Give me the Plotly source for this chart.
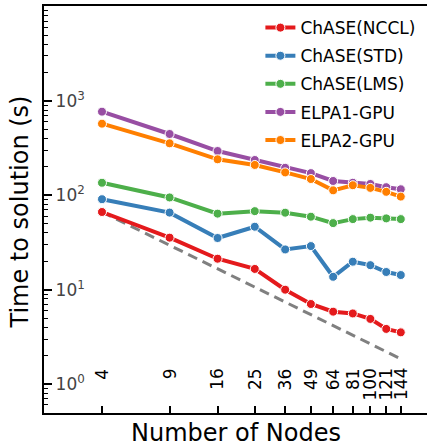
import math
import plotly.graph_objects as go

nodes = [4, 9, 16, 25, 36, 49, 64, 81, 100, 121, 144]
node_labels = ["4", "9", "16", "25", "36", "49", "64", "81", "100", "121", "144"]

chase_nccl = [66.6, 35.6, 21.3, 16.6, 10.0, 7.05, 5.85, 5.6, 4.9, 3.84, 3.53]
chase_std = [91, 65.6, 35.3, 46.5, 26.7, 29, 13.7, 19.8, 18.2, 15.4, 14.3]
chase_lms = [136, 95, 64, 68, 65.5, 59.4, 50.8, 56, 58, 57, 56]
elpa1_gpu = [771, 447, 295, 237, 196, 172, 142, 136, 132, 122, 116]
elpa2_gpu = [575, 356, 241, 210, 175, 149, 113, 128, 120, 109, 97]

ideal_nodes = [4, 144]
ideal_time = [66.6, 1.85]

series_names = ["ChASE(NCCL)", "ChASE(STD)", "ChASE(LMS)", "ELPA1-GPU", "ELPA2-GPU"]
series_values = [chase_nccl, chase_std, chase_lms, elpa1_gpu, elpa2_gpu]
colors = ["#e41a1c", "#377eb8", "#4daf4a", "#984ea3", "#ff7f00"]

y_tickvals = [1, 10, 100, 1000]
y_ticktext = ["10<sup>0</sup>", "10<sup>1</sup>", "10<sup>2</sup>", "10<sup>3</sup>"]
y_minor = [0.5, 0.6, 0.7, 0.8, 0.9] + [m * 10 ** d for d in range(0, 4) for m in range(2, 10)] + [10000]

FONT = "DejaVu Sans"

fig = go.Figure()
fig.add_trace(go.Scatter(
    x=ideal_nodes, y=ideal_time, mode="lines",
    line=dict(color="#808080", width=3, dash="10px,6px"),
    showlegend=False, hoverinfo="skip"))

for name, vals, col in zip(series_names, series_values, colors):
    fig.add_trace(go.Scatter(
        x=nodes, y=vals, mode="lines+markers", name=name, legendgroup=name,
        line=dict(color=col, width=4),
        marker=dict(color=col, size=9, line=dict(color="white", width=1))))

# x tick labels: rotated, drawn inside the plot, top-aligned (as in the reference)
# (annotation x on a log axis is given in log10 units)
for xv, lab in zip(nodes, node_labels):
    fig.add_annotation(
        x=math.log10(xv), xref="x", y=0.115, yref="paper",
        text=lab, textangle=-90, showarrow=False,
        xanchor="center", yanchor="top",
        font=dict(size=17, family=FONT, color="black"))

fig.add_annotation(
    x=0.5, xref="paper", y=-0.05, yref="paper",
    text="Number of Nodes", showarrow=False, borderpad=0,
    xanchor="center", yanchor="middle",
    font=dict(size=24, family=FONT, color="black"))
fig.add_annotation(
    x=-0.0627, xref="paper", y=0.495, yref="paper",
    text="Time to solution (s)", showarrow=False, textangle=-90,
    xanchor="center", yanchor="middle",
    font=dict(size=24, family=FONT, color="black"))

fig.update_layout(
    width=427, height=447,
    margin=dict(l=44, r=0, t=6, b=34),
    paper_bgcolor="white", plot_bgcolor="white",
    font=dict(family=FONT, size=16, color="black"),
    legend=dict(x=0.565, y=0.99, xanchor="left", yanchor="top",
                font=dict(size=17, family=FONT), bgcolor="rgba(0,0,0,0)",
                tracegroupgap=3),
    xaxis=dict(
        type="log", range=[0.300, 2.295],
        tickvals=nodes, showticklabels=False,
        ticks="inside", ticklen=7, tickwidth=1.5, tickcolor="black",
        showgrid=False, zeroline=False,
        showline=True, linecolor="black", linewidth=2, mirror=True),
    yaxis=dict(
        type="log", range=[-0.307, 4.007],
        tickvals=y_tickvals, ticktext=y_ticktext,
        ticks="inside", ticklen=8, tickwidth=1.5, tickcolor="black",
        ticklabelposition="inside", ticklabelstandoff=4,
        minor=dict(tickvals=y_minor, ticks="inside", ticklen=4, tickwidth=1.2, tickcolor="black", showgrid=False),
        showgrid=False, zeroline=False,
        showline=True, linecolor="black", linewidth=2, mirror=False,
        tickfont=dict(size=17, family=FONT)),
)

fig.write_html("out.html")
